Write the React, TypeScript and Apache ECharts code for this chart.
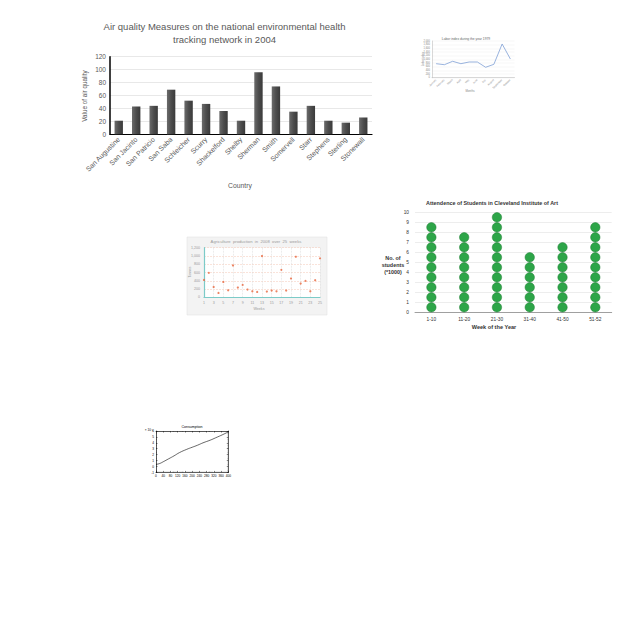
import React, { useEffect, useRef } from "react";
import * as echarts from "echarts";

// ---- Chart 1: Air quality ----
const airCountries = [
  "San Augustine", "San Jacinto", "San Patricio", "San Saba", "Schleicher",
  "Scurry", "Shackelford", "Shelby", "Sherman", "Smith",
  "Somervell", "Starr", "Stephens", "Sterling", "Stonewall",
];
const airValues = [21, 43, 44, 69, 52, 47, 36, 21, 96, 74, 35, 44, 21, 18, 26];
const airTicks = [0, 120, 20];

// ---- Chart 2: Labor index ----
const laborMonths = [
  "January", "February", "March", "April", "May",
  "June", "July", "August", "September", "October",
];
const laborValues = [763, 708, 894, 763, 856, 856, 567, 730, 1837, 1019];

// ---- Chart 3: Agriculture production ----
const agriWeeks = [
  "1", "2", "3", "4", "5", "6", "7", "8", "9", "10", "11", "12", "13",
  "14", "15", "16", "17", "18", "19", "20", "21", "22", "23", "24", "25",
];
const agriValues = [
  420, 591, 251, 105, 372, 170, 771, 236, 300, 187, 146, 129, 998,
  139, 163, 146, 664, 163, 455, 981, 333, 397, 146, 414, 942,
];

// ---- Chart 4: Attendance ----
const attendanceWeeks = ["1-10", "11-20", "21-30", "31-40", "41-50", "51-52"];
const attendanceValues = [9, 8, 10, 6, 7, 9];

// ---- Chart 5: Consumption ----
const consumptionX = [0, 20, 40, 70, 100, 130, 170, 200, 230, 260, 300, 330, 370, 400];
const consumptionY = [0.35, 0.5, 0.8, 1.3, 1.8, 2.35, 2.9, 3.25, 3.6, 4.0, 4.45, 4.85, 5.4, 5.85];

const FONT = "Liberation Sans, Arial, sans-serif";

export default function App() {
  const ref = useRef<HTMLDivElement>(null);
  useEffect(() => {
    if (!ref.current) return;
    const chart = echarts.init(ref.current, null, { renderer: "svg" });
    const grey = "#595959";

    // one circle per 1000 students, stacked from the axis
    const attendanceDots: number[][] = [];
    attendanceValues.forEach((v, i) => {
      for (let k = 0; k < v; k++) attendanceDots.push([i, k + 0.5]);
    });

    const option: any = {
      animation: false,
      backgroundColor: "#ffffff",
      textStyle: { fontFamily: FONT },
      grid: [
        { left: 110, top: 56.7, width: 262, height: 77.6 },
        { left: 432, top: 41, width: 82.5, height: 36.7 },
        { left: 204, top: 247.7, width: 116, height: 49.6 },
        { left: 415, top: 212.3, width: 196.7, height: 100 },
        { left: 156, top: 431, width: 72.3, height: 41.4 },
      ],
      xAxis: [
        {
          gridIndex: 0, type: "category", data: airCountries,
          axisLine: { lineStyle: { color: "#000", width: 1.2 } },
          axisTick: { show: false },
          axisLabel: { rotate: 45, fontSize: 7, color: grey, margin: 4, interval: 0 },
        },
        {
          gridIndex: 1, type: "category", data: laborMonths,
          axisLine: { lineStyle: { color: "#bfbfbf", width: 0.6 } },
          axisTick: { show: false },
          axisLabel: { rotate: 45, fontSize: 2.6, color: "#888", margin: 2, interval: 0 },
        },
        {
          gridIndex: 2, type: "category", data: agriWeeks, boundaryGap: false,
          axisLine: { lineStyle: { color: "#7ccbc8", width: 1.2 } },
          axisTick: { show: false },
          axisLabel: { fontSize: 3.6, color: "#999", margin: 4, interval: 1 },
          splitLine: { show: true, interval: 1, lineStyle: { color: "#d8d8d8", width: 0.5, type: "dashed" } },
        },
        {
          gridIndex: 3, type: "category", data: attendanceWeeks,
          axisLine: { lineStyle: { color: "#8c8c8c", width: 0.8 } },
          axisTick: { show: false },
          axisLabel: { fontSize: 4.8, color: "#333", margin: 5, interval: 0 },
        },
        {
          gridIndex: 4, type: "value", min: 0, max: 400, interval: 40,
          axisLine: { onZero: false, lineStyle: { color: "#000", width: 0.6 } },
          axisTick: { inside: true, length: 1.5, lineStyle: { color: "#000", width: 0.5 } },
          minorTick: { show: true, splitNumber: 4, length: 0.8, lineStyle: { color: "#000", width: 0.4 } },
          axisLabel: { fontSize: 3.2, color: "#000", margin: 2 },
          splitLine: { show: false },
        },
        {
          gridIndex: 4, type: "value", position: "top", min: 0, max: 400, interval: 40,
          axisLine: { onZero: false, lineStyle: { color: "#000", width: 0.6 } },
          axisTick: { inside: true, length: 1.5, lineStyle: { color: "#000", width: 0.5 } },
          minorTick: { show: true, splitNumber: 4, length: 0.8, lineStyle: { color: "#000", width: 0.4 } },
          axisLabel: { show: false },
          splitLine: { show: false },
        },
      ],
      yAxis: [
        {
          gridIndex: 0, type: "value", min: airTicks[0], max: airTicks[1], interval: airTicks[2],
          axisLine: { show: true, lineStyle: { color: "#000", width: 1.5 } },
          axisTick: { show: false },
          axisLabel: { fontSize: 6.5, color: grey, margin: 4 },
          splitLine: { lineStyle: { color: "#d9d9d9", width: 0.6 } },
        },
        {
          gridIndex: 1, type: "value", min: 0, max: 2000, interval: 200,
          axisLine: { show: true, lineStyle: { color: "#bfbfbf", width: 0.6 } },
          axisTick: { show: false },
          axisLabel: { fontSize: 2.6, color: "#888", margin: 2 },
          splitLine: { lineStyle: { color: "#e8e8e8", width: 0.4 } },
        },
        {
          gridIndex: 2, type: "value", min: 0, max: 1200, interval: 200,
          axisLine: { show: true, lineStyle: { color: "#7ccbc8", width: 1.2 } },
          axisTick: { show: false },
          axisLabel: { fontSize: 3.6, color: "#999", margin: 4 },
          splitLine: { lineStyle: { color: "#f4c7b4", width: 0.5, type: "dashed" } },
        },
        {
          gridIndex: 3, type: "value", min: 0, max: 10, interval: 1,
          axisLine: { show: false },
          axisTick: { show: false },
          axisLabel: { fontSize: 4.8, color: "#333", margin: 6 },
          splitLine: { lineStyle: { color: "#e0e0e0", width: 0.6 } },
        },
        {
          gridIndex: 4, type: "value", min: -1, max: 6, interval: 1,
          axisLine: { show: true, onZero: false, lineStyle: { color: "#000", width: 0.6 } },
          axisTick: { show: true, inside: true, length: 1.5, lineStyle: { color: "#000", width: 0.5 } },
          minorTick: { show: true, splitNumber: 4, length: 0.8, lineStyle: { color: "#000", width: 0.4 } },
          axisLabel: { fontSize: 3.2, color: "#000", margin: 2 },
          splitLine: { show: false },
        },
        {
          gridIndex: 4, type: "value", position: "right", min: -1, max: 6, interval: 1,
          axisLine: { show: true, onZero: false, lineStyle: { color: "#000", width: 0.6 } },
          axisTick: { show: true, inside: true, length: 1.5, lineStyle: { color: "#000", width: 0.5 } },
          minorTick: { show: true, splitNumber: 4, length: 0.8, lineStyle: { color: "#000", width: 0.4 } },
          axisLabel: { show: false },
          splitLine: { show: false },
        },
      ],
      series: [
        {
          type: "bar", xAxisIndex: 0, yAxisIndex: 0, data: airValues, barWidth: "48%",
          itemStyle: {
            color: new echarts.graphic.LinearGradient(0, 0, 1, 0, [
              { offset: 0, color: "#6b6b6b" },
              { offset: 0.5, color: "#4d4d4d" },
              { offset: 1, color: "#3a3a3a" },
            ]),
          },
        },
        {
          type: "line", xAxisIndex: 1, yAxisIndex: 1, data: laborValues,
          showSymbol: false, lineStyle: { color: "#7f9fd5", width: 0.8 },
        },
        {
          type: "scatter", xAxisIndex: 2, yAxisIndex: 2, data: agriValues,
          symbolSize: 2.2, itemStyle: { color: "#e8663d" },
        },
        {
          type: "scatter", xAxisIndex: 3, yAxisIndex: 3, data: attendanceDots,
          symbol: "circle", symbolSize: 9.4,
          itemStyle: { color: "#2da548", borderColor: "#1d7a33", borderWidth: 0.5, opacity: 1 },
        },
        {
          type: "line", xAxisIndex: 4, yAxisIndex: 4,
          data: consumptionX.map((x, i) => [x, consumptionY[i]]),
          showSymbol: false, smooth: true, lineStyle: { color: "#000", width: 0.6 },
        },
      ],
      graphic: {
        elements: [
          {
            type: "rect", z: -10, shape: { x: 187, y: 237, width: 140, height: 78 },
            style: { fill: "#f3f3f3", stroke: "#dedede", lineWidth: 0.5 },
          },
          {
            type: "rect", z: -9, shape: { x: 204, y: 247.7, width: 116, height: 49.6 },
            style: { fill: "#ffffff" },
          },
          // Chart 1 texts
          {
            type: "text", x: 224.5, y: 26.7,
            style: { text: "Air quality Measures on the national environmental health", fontSize: 9.5, fill: grey, fontFamily: FONT, align: "center", verticalAlign: "middle" },
          },
          {
            type: "text", x: 224.5, y: 39.3,
            style: { text: "tracking network in 2004", fontSize: 9.5, fill: grey, fontFamily: FONT, align: "center", verticalAlign: "middle" },
          },
          {
            type: "text", x: 84, y: 96, rotation: Math.PI / 2,
            style: { text: "Value of air quality", fontSize: 6.3, fill: grey, fontFamily: FONT, align: "center", verticalAlign: "middle" },
          },
          {
            type: "text", x: 240, y: 185.7,
            style: { text: "Country", fontSize: 6.8, fill: grey, fontFamily: FONT, align: "center", verticalAlign: "middle" },
          },
          // Chart 2 texts
          {
            type: "text", x: 466, y: 39,
            style: { text: "Labor index during the year 1979", fontSize: 3.3, fill: "#666", fontFamily: FONT, align: "center", verticalAlign: "middle" },
          },
          {
            type: "text", x: 423, y: 59, rotation: Math.PI / 2,
            style: { text: "Labor index", fontSize: 2.8, fill: "#888", fontFamily: FONT, align: "center", verticalAlign: "middle" },
          },
          {
            type: "text", x: 470, y: 91,
            style: { text: "Months", fontSize: 2.8, fill: "#888", fontFamily: FONT, align: "center", verticalAlign: "middle" },
          },
          // Chart 3 texts
          {
            type: "text", x: 256, y: 241,
            style: { text: "Agriculture  production  in  2008  over  25  weeks", fontSize: 4.2, fill: "#9a9a9a", fontFamily: FONT, align: "center", verticalAlign: "middle" },
          },
          {
            type: "text", x: 190, y: 272, rotation: Math.PI / 2,
            style: { text: "Tonnes", fontSize: 3.4, fill: "#999", fontFamily: FONT, align: "center", verticalAlign: "middle" },
          },
          {
            type: "text", x: 259, y: 309,
            style: { text: "Weeks", fontSize: 3.6, fill: "#999", fontFamily: FONT, align: "center", verticalAlign: "middle" },
          },
          // Chart 4 texts
          {
            type: "text", x: 492, y: 203.3,
            style: { text: "Attendence of Students in Cleveland Institute of Art", fontSize: 5.4, fontWeight: "bold", fill: "#333", fontFamily: FONT, align: "center", verticalAlign: "middle" },
          },
          {
            type: "text", x: 393, y: 265,
            style: { text: "No. of\nstudents\n(*1000)", fontSize: 5.4, lineHeight: 6.8, fontWeight: "bold", fill: "#333", fontFamily: FONT, align: "center", verticalAlign: "middle" },
          },
          {
            type: "text", x: 494, y: 326.7,
            style: { text: "Week of the Year", fontSize: 5.6, fontWeight: "bold", fill: "#333", fontFamily: FONT, align: "center", verticalAlign: "middle" },
          },
          // Chart 5 texts
          {
            type: "text", x: 192, y: 427.3,
            style: { text: "Consumption", fontSize: 3.6, fill: "#000", fontFamily: FONT, align: "center", verticalAlign: "middle" },
          },
          {
            type: "text", x: 149, y: 429.5,
            style: { text: "× 10⁻³", fontSize: 3.2, fill: "#000", fontFamily: FONT, align: "center", verticalAlign: "middle" },
          },
        ],
      },
    };
    chart.setOption(option);
    return () => chart.dispose();
  }, []);
  return (
    <div
      ref={ref}
      style={{ position: "absolute", left: 0, top: 0, width: 640, height: 640 }}
    />
  );
}
